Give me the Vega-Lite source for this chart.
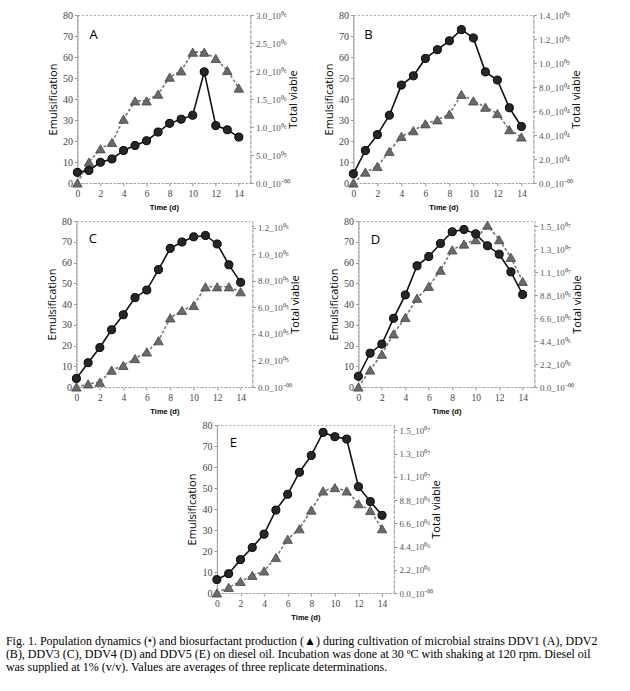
{
"$schema": "https://vega.github.io/schema/vega-lite/v6.json",
"padding": {"left": 5, "top": 9, "right": 0, "bottom": 0},
"datasets": {
"A": [
{"time":0,"emul":0,"viable":190000},{"time":1,"emul":10,"viable":225000},{"time":2,"emul":16.3,"viable":370000},{"time":3,"emul":19.3,"viable":430000},{"time":4,"emul":30.4,"viable":580000},{"time":5,"emul":39.1,"viable":670000},{"time":6,"emul":39.1,"viable":755000},{"time":7,"emul":42.3,"viable":910000},{"time":8,"emul":50.4,"viable":1065000},{"time":9,"emul":53.4,"viable":1140000},{"time":10,"emul":62.3,"viable":1210000},{"time":11,"emul":62.3,"viable":1985000},{"time":12,"emul":59.3,"viable":1025000},{"time":13,"emul":53.6,"viable":950000},{"time":14,"emul":45.2,"viable":820000}],
"B": [
{"time":0,"emul":0,"viable":7700},{"time":1,"emul":5.2,"viable":27100},{"time":2,"emul":7.9,"viable":40300},{"time":3,"emul":15.1,"viable":56500},{"time":4,"emul":22.2,"viable":81600},{"time":5,"emul":24.9,"viable":89300},{"time":6,"emul":28.2,"viable":103800},{"time":7,"emul":30.1,"viable":111100},{"time":8,"emul":32.8,"viable":118500},{"time":9,"emul":42.2,"viable":127800},{"time":10,"emul":39.1,"viable":120900},{"time":11,"emul":36.1,"viable":92600},{"time":12,"emul":33.1,"viable":85800},{"time":13,"emul":25.4,"viable":62700},{"time":14,"emul":21.9,"viable":47100}],
"C": [
{"time":0,"emul":0,"viable":64000},{"time":1,"emul":1.5,"viable":183000},{"time":2,"emul":2.3,"viable":297000},{"time":3,"emul":8.1,"viable":431000},{"time":4,"emul":10.4,"viable":544000},{"time":5,"emul":13.7,"viable":673000},{"time":6,"emul":16.9,"viable":730000},{"time":7,"emul":22.3,"viable":884000},{"time":8,"emul":33.3,"viable":1044000},{"time":9,"emul":36.9,"viable":1092000},{"time":10,"emul":39.3,"viable":1131000},{"time":11,"emul":48.3,"viable":1141000},{"time":12,"emul":48.3,"viable":1077000},{"time":13,"emul":48.3,"viable":920000},{"time":14,"emul":45.9,"viable":788000}],
"D": [
{"time":0,"emul":0,"viable":1030000},{"time":1,"emul":8.2,"viable":3240000},{"time":2,"emul":15.8,"viable":4110000},{"time":3,"emul":25.6,"viable":6580000},{"time":4,"emul":33.5,"viable":8820000},{"time":5,"emul":42.8,"viable":11610000},{"time":6,"emul":48.5,"viable":12500000},{"time":7,"emul":56.3,"viable":13750000},{"time":8,"emul":66.1,"viable":14870000},{"time":9,"emul":68.9,"viable":15090000},{"time":10,"emul":71.0,"viable":14670000},{"time":11,"emul":78.0,"viable":13530000},{"time":12,"emul":71.0,"viable":12720000},{"time":13,"emul":62.5,"viable":11030000},{"time":14,"emul":50.9,"viable":8860000}],
"E": [
{"time":0,"emul":0,"viable":1270000},{"time":1,"emul":2.7,"viable":1830000},{"time":2,"emul":5.5,"viable":3160000},{"time":3,"emul":8.4,"viable":4310000},{"time":4,"emul":10.5,"viable":5570000},{"time":5,"emul":16.9,"viable":7850000},{"time":6,"emul":25.6,"viable":9340000},{"time":7,"emul":30.6,"viable":11430000},{"time":8,"emul":39.5,"viable":13020000},{"time":9,"emul":48.6,"viable":15200000},{"time":10,"emul":50.2,"viable":14790000},{"time":11,"emul":48.6,"viable":14570000},{"time":12,"emul":42.5,"viable":10060000},{"time":13,"emul":39.3,"viable":8650000},{"time":14,"emul":30.6,"viable":7350000}]
},
"spacing": 3,
"center": true,
"title": {
"text": ["Fig. 1. Population dynamics (•) and biosurfactant production (▲) during cultivation of microbial strains DDV1 (A), DDV2", "(B), DDV3 (C), DDV4 (D) and DDV5 (E) on diesel oil. Incubation was done at 30 ºC with shaking at 120 rpm. Diesel oil", "was supplied at 1% (v/v). Values are averages of three replicate determinations."],
"orient": "bottom", "anchor": "start", "font": "Liberation Serif", "fontSize": 12, "fontWeight": "normal", "lineHeight": 13, "offset": 14, "dx": -40, "color": "#000"
},
"vconcat": [
{"hconcat": [
{"width": 173, "height": 168, "data": {"name": "A"},
"layer": [
{"encoding": {
"x": {"field": "time", "type": "quantitative", "scale": {"domain": [0, 15], "nice": false}, "axis": {"values": [0,2,4,6,8,10,12,14], "title": "Time (d)", "labelOverlap": false, "labelFlush": false, "labelBound": false}},
"y": {"field": "emul", "type": "quantitative", "scale": {"domain": [0, 80], "nice": false}, "axis": {"orient": "left", "values": [0,10,20,30,40,50,60,70,80], "title": "Emulsification"}}},
"layer": [
{"mark": {"type": "line", "stroke": "#777", "strokeDash": [3, 2], "strokeWidth": 1.6}},
{"mark": {"type": "point", "shape": "triangle-up", "filled": true, "size": 90, "fill": "#6a6a6a", "stroke": "#444", "strokeWidth": 0.8, "opacity": 1}},
{"data": {"values": [{"time": 1.4, "emul": 70.5, "label": "A"}]}, "mark": {"type": "text", "font": "Open Sans", "fontSize": 13, "align": "center", "baseline": "middle", "color": "#000"}, "encoding": {"text": {"field": "label"}}}
]},
{"encoding": {
"x": {"field": "time", "type": "quantitative", "axis": {"values": [0,2,4,6,8,10,12,14], "title": "Time (d)", "labelOverlap": false, "labelFlush": false, "labelBound": false}},
"y": {"field": "viable", "type": "quantitative", "scale": {"domain": [0, 3000000], "nice": false}, "axis": {"orient": "right", "values": [0,500000,1000000,1500000,2000000,2500000,3000000], "title": "Total viable", "labelExpr": "datum.value==0?'0.0_10⁻⁰⁰':datum.value<1e6?format(datum.value/1e5,'.1f')+'_10⁰⁵':format(datum.value/1e6,'.1f')+'_10⁰⁶'"}}},
"layer": [
{"mark": {"type": "line", "stroke": "#111", "strokeWidth": 1.6}},
{"mark": {"type": "point", "shape": "circle", "filled": true, "size": 65, "fill": "#262626", "stroke": "#000", "strokeWidth": 1, "opacity": 1}}
]}
],
"resolve": {"scale": {"y": "independent"}}},
{"width": 180, "height": 168, "data": {"name": "B"},
"layer": [
{"encoding": {
"x": {"field": "time", "type": "quantitative", "scale": {"domain": [0, 15], "nice": false}, "axis": {"values": [0,2,4,6,8,10,12,14], "title": "Time (d)", "labelOverlap": false, "labelFlush": false, "labelBound": false}},
"y": {"field": "emul", "type": "quantitative", "scale": {"domain": [0, 80], "nice": false}, "axis": {"orient": "left", "values": [0,10,20,30,40,50,60,70,80], "title": "Emulsification"}}},
"layer": [
{"mark": {"type": "line", "stroke": "#777", "strokeDash": [3, 2], "strokeWidth": 1.6}},
{"mark": {"type": "point", "shape": "triangle-up", "filled": true, "size": 90, "fill": "#6a6a6a", "stroke": "#444", "strokeWidth": 0.8, "opacity": 1}},
{"data": {"values": [{"time": 1.25, "emul": 70.5, "label": "B"}]}, "mark": {"type": "text", "font": "Open Sans", "fontSize": 13, "align": "center", "baseline": "middle", "color": "#000"}, "encoding": {"text": {"field": "label"}}}
]},
{"encoding": {
"x": {"field": "time", "type": "quantitative", "axis": {"values": [0,2,4,6,8,10,12,14], "title": "Time (d)", "labelOverlap": false, "labelFlush": false, "labelBound": false}},
"y": {"field": "viable", "type": "quantitative", "scale": {"domain": [0, 140000], "nice": false}, "axis": {"orient": "right", "values": [0,20000,40000,60000,80000,100000,120000,140000], "title": "Total viable", "labelExpr": "datum.value==0?'0.0_10⁻⁰⁰':datum.value<1e5?format(datum.value/1e4,'.1f')+'_10⁰⁴':format(datum.value/1e5,'.1f')+'_10⁰⁵'"}}},
"layer": [
{"mark": {"type": "line", "stroke": "#111", "strokeWidth": 1.6}},
{"mark": {"type": "point", "shape": "circle", "filled": true, "size": 65, "fill": "#262626", "stroke": "#000", "strokeWidth": 1, "opacity": 1}}
]}
],
"resolve": {"scale": {"y": "independent"}}}
], "spacing": 23},
{"hconcat": [
{"width": 176, "height": 166, "data": {"name": "C"},
"layer": [
{"encoding": {
"x": {"field": "time", "type": "quantitative", "scale": {"domain": [0, 15], "nice": false}, "axis": {"values": [0,2,4,6,8,10,12,14], "title": "Time (d)", "labelOverlap": false, "labelFlush": false, "labelBound": false}},
"y": {"field": "emul", "type": "quantitative", "scale": {"domain": [0, 80], "nice": false}, "axis": {"orient": "left", "values": [0,10,20,30,40,50,60,70,80], "title": "Emulsification"}}},
"layer": [
{"mark": {"type": "line", "stroke": "#777", "strokeDash": [3, 2], "strokeWidth": 1.6}},
{"mark": {"type": "point", "shape": "triangle-up", "filled": true, "size": 90, "fill": "#6a6a6a", "stroke": "#444", "strokeWidth": 0.8, "opacity": 1}},
{"data": {"values": [{"time": 1.4, "emul": 71.3, "label": "C"}]}, "mark": {"type": "text", "font": "Open Sans", "fontSize": 13, "align": "center", "baseline": "middle", "color": "#000"}, "encoding": {"text": {"field": "label"}}}
]},
{"encoding": {
"x": {"field": "time", "type": "quantitative", "axis": {"values": [0,2,4,6,8,10,12,14], "title": "Time (d)", "labelOverlap": false, "labelFlush": false, "labelBound": false}},
"y": {"field": "viable", "type": "quantitative", "scale": {"domain": [0, 1250000], "nice": false}, "axis": {"orient": "right", "values": [0,200000,400000,600000,800000,1000000,1200000], "title": "Total viable", "labelExpr": "datum.value==0?'0.0_10⁻⁰⁰':datum.value<1e6?format(datum.value/1e5,'.1f')+'_10⁰⁵':format(datum.value/1e6,'.1f')+'_10⁰⁶'"}}},
"layer": [
{"mark": {"type": "line", "stroke": "#111", "strokeWidth": 1.6}},
{"mark": {"type": "point", "shape": "circle", "filled": true, "size": 65, "fill": "#262626", "stroke": "#000", "strokeWidth": 1, "opacity": 1}}
]}
],
"resolve": {"scale": {"y": "independent"}}},
{"width": 176, "height": 166, "data": {"name": "D"},
"layer": [
{"encoding": {
"x": {"field": "time", "type": "quantitative", "scale": {"domain": [0, 15], "nice": false}, "axis": {"values": [0,2,4,6,8,10,12,14], "title": "Time (d)", "labelOverlap": false, "labelFlush": false, "labelBound": false}},
"y": {"field": "emul", "type": "quantitative", "scale": {"domain": [0, 80], "nice": false}, "axis": {"orient": "left", "values": [0,10,20,30,40,50,60,70,80], "title": "Emulsification"}}},
"layer": [
{"mark": {"type": "line", "stroke": "#777", "strokeDash": [3, 2], "strokeWidth": 1.6}},
{"mark": {"type": "point", "shape": "triangle-up", "filled": true, "size": 90, "fill": "#6a6a6a", "stroke": "#444", "strokeWidth": 0.8, "opacity": 1}},
{"data": {"values": [{"time": 1.45, "emul": 71, "label": "D"}]}, "mark": {"type": "text", "font": "Open Sans", "fontSize": 13, "align": "center", "baseline": "middle", "color": "#000"}, "encoding": {"text": {"field": "label"}}}
]},
{"encoding": {
"x": {"field": "time", "type": "quantitative", "axis": {"values": [0,2,4,6,8,10,12,14], "title": "Time (d)", "labelOverlap": false, "labelFlush": false, "labelBound": false}},
"y": {"field": "viable", "type": "quantitative", "scale": {"domain": [0, 15900000], "nice": false}, "axis": {"orient": "right", "values": [0,2200000,4400000,6600000,8800000,11000000,13200000,15400000], "title": "Total viable", "labelExpr": "datum.value==0?'0.0_10⁻⁰⁰':datum.value<1e7?format(datum.value/1e6,'.1f')+'_10⁰⁶':format(datum.value/1e7,'.1f')+'_10⁰⁷'"}}},
"layer": [
{"mark": {"type": "line", "stroke": "#111", "strokeWidth": 1.6}},
{"mark": {"type": "point", "shape": "circle", "filled": true, "size": 65, "fill": "#262626", "stroke": "#000", "strokeWidth": 1, "opacity": 1}}
]}
],
"resolve": {"scale": {"y": "independent"}}}
], "spacing": 26},
{"width": 177, "height": 168, "data": {"name": "E"},
"layer": [
{"encoding": {
"x": {"field": "time", "type": "quantitative", "scale": {"domain": [0, 15], "nice": false}, "axis": {"values": [0,2,4,6,8,10,12,14], "title": "Time (d)", "labelOverlap": false, "labelFlush": false, "labelBound": false}},
"y": {"field": "emul", "type": "quantitative", "scale": {"domain": [0, 80], "nice": false}, "axis": {"orient": "left", "values": [0,10,20,30,40,50,60,70,80], "title": "Emulsification"}}},
"layer": [
{"mark": {"type": "line", "stroke": "#777", "strokeDash": [3, 2], "strokeWidth": 1.6}},
{"mark": {"type": "point", "shape": "triangle-up", "filled": true, "size": 90, "fill": "#6a6a6a", "stroke": "#444", "strokeWidth": 0.8, "opacity": 1}},
{"data": {"values": [{"time": 1.4, "emul": 71.4, "label": "E"}]}, "mark": {"type": "text", "font": "Open Sans", "fontSize": 13, "align": "center", "baseline": "middle", "color": "#000"}, "encoding": {"text": {"field": "label"}}}
]},
{"encoding": {
"x": {"field": "time", "type": "quantitative", "axis": {"values": [0,2,4,6,8,10,12,14], "title": "Time (d)", "labelOverlap": false, "labelFlush": false, "labelBound": false}},
"y": {"field": "viable", "type": "quantitative", "scale": {"domain": [0, 15900000], "nice": false}, "axis": {"orient": "right", "values": [0,2200000,4400000,6600000,8800000,11000000,13200000,15400000], "title": "Total viable", "labelExpr": "datum.value==0?'0.0_10⁻⁰⁰':datum.value<1e7?format(datum.value/1e6,'.1f')+'_10⁰⁶':format(datum.value/1e7,'.1f')+'_10⁰⁷'"}}},
"layer": [
{"mark": {"type": "line", "stroke": "#111", "strokeWidth": 1.6}},
{"mark": {"type": "point", "shape": "circle", "filled": true, "size": 65, "fill": "#262626", "stroke": "#000", "strokeWidth": 1, "opacity": 1}}
]}
],
"resolve": {"scale": {"y": "independent"}}}
],
"config": {
"view": {"stroke": "#aaa", "strokeDash": [2, 2]},
"axis": {"grid": false, "labelFont": "Liberation Serif", "labelFontSize": 10, "labelColor": "#444", "titleFont": "Open Sans", "titleFontWeight": "normal", "titleFontSize": 11, "titleColor": "#000", "domainColor": "#999", "tickColor": "#999", "tickSize": 3, "labelPadding": 2},
"axisX": {"domainDash": [1, 2], "titleFont": "Liberation Sans", "titleFontWeight": "bold", "titleFontSize": 7.5, "titlePadding": 6, "labelFontSize": 9.5, "labelOverlap": false, "labelFlush": false},
"axisLeft": {"titlePadding": 4},
"axisRight": {"labelFontSize": 9, "labelColor": "#555", "domainDash": [3, 2], "titleAngle": -90, "titlePadding": 9}
}
}
